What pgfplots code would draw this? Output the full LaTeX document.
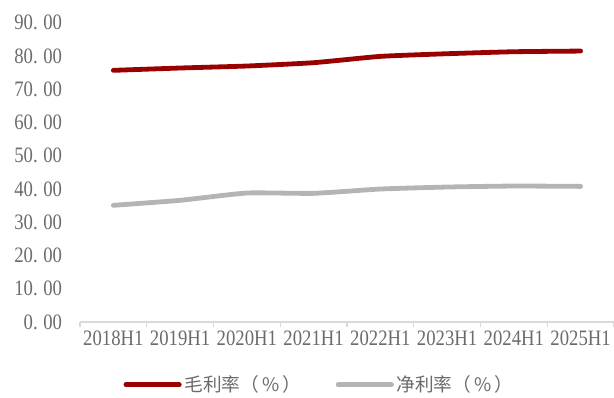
\documentclass[border=0pt]{standalone}
\usepackage{pgfplots}
\pgfplotsset{compat=1.18}
\usepackage{fontspec}
\setmainfont{Liberation Serif}[FakeStretch=0.85]
\newfontfamily\cjk{Noto Sans CJK SC}
\definecolor{txt}{HTML}{6B6B6B}
\definecolor{axl}{HTML}{D9D9D9}
\definecolor{dred}{HTML}{990000}
\definecolor{lgray}{HTML}{B4B4B4}
\newcommand\yl[2]{#1.\hspace{0.25em}#2}
\begin{document}
\begin{tikzpicture}
\useasboundingbox (-60pt,-56.25pt) rectangle (400.5pt,241.5pt);
\begin{axis}[
  at={(0,0)}, anchor=south west,
  scale only axis, width=400.5pt, height=224.4pt,
  xmin=-0.5, xmax=7.5, ymin=0, ymax=90,
  xtick={-0.5,0.5,1.5,2.5,3.5,4.5,5.5,6.5,7.5},
  xticklabels={},
  xtick style={draw=axl, line width=0.8pt},
  xtick align=outside,
  major tick length=4pt,
  extra x ticks={0,1,2,3,4,5,6,7},
  extra x tick labels={2018H1,2019H1,2020H1,2021H1,2022H1,2023H1,2024H1,2025H1},
  extra x tick style={major tick length=0pt, tick style={draw=none},
     xticklabel style={font=\fontsize{16.5pt}{18pt}\selectfont, text=txt, yshift=-3pt}},
  ytick={0,10,...,90},
  yticklabels={{\yl{0}{00}},{\yl{10}{00}},{\yl{20}{00}},{\yl{30}{00}},{\yl{40}{00}},{\yl{50}{00}},{\yl{60}{00}},{\yl{70}{00}},{\yl{80}{00}},{\yl{90}{00}}},
  ytick style={draw=none},
  axis x line*=bottom,
  axis y line*=left,
  y axis line style={draw=none},
  x axis line style={draw=axl, line width=0.8pt, -},
  yticklabel style={font=\fontsize{16.5pt}{18pt}\selectfont, text=txt, anchor=east, xshift=-10pt},
  clip=false,
  legend columns=2,
  legend style={draw=none, fill=none, at={(axis description cs:0.449,-0.21)}, anchor=center,
    font=\cjk\fontsize{14pt}{16pt}\selectfont, text=txt,
    /tikz/every even column/.append style={column sep=24pt}},
  legend image code/.code={\draw[#1, line cap=round] (0pt,0pt) -- (40pt,0pt);},
]
\addplot[dred, line width=3.6pt, smooth, tension=0.3, line cap=round] coordinates {
(0,75.7) (1,76.4) (2,77.0) (3,78.0) (4,79.9) (5,80.7) (6,81.3) (7,81.5)};
\addlegendentry{毛利率（\,\%\,）}
\addplot[lgray, line width=3.6pt, smooth, tension=0.3, line cap=round] coordinates {
(0,35.1) (1,36.6) (2,38.8) (3,38.7) (4,40.0) (5,40.6) (6,40.9) (7,40.8)};
\addlegendentry{净利率（\,\%\,）}
\end{axis}
\end{tikzpicture}
\end{document}
